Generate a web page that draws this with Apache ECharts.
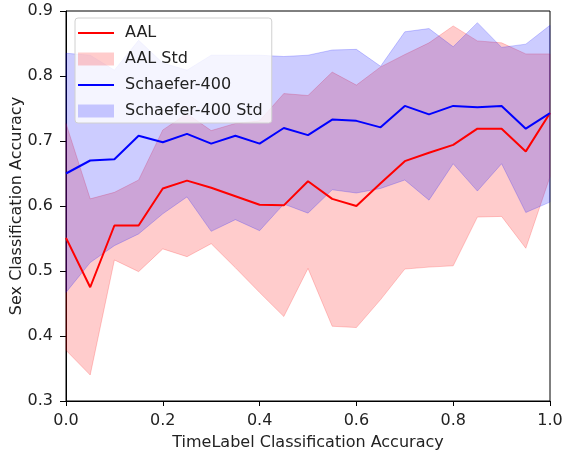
<!DOCTYPE html>
<html>
<head>
<meta charset="utf-8">
<script src="https://cdn.jsdelivr.net/npm/echarts@6/dist/echarts.min.js"></script>
<style>
  html, body { margin: 0; padding: 0; background: #fff; }
  #chart { width: 567px; height: 455px; }
</style>
</head>
<body>
<div id="chart"></div>
<script>
// x positions (TimeLabel accuracy)
const xs = [0, 0.05, 0.1, 0.15, 0.2, 0.25, 0.3, 0.35, 0.4, 0.45, 0.5,
  0.55, 0.6, 0.65, 0.7, 0.75, 0.8, 0.85, 0.9, 0.95, 1.0]

const aalMean = [0.551, 0.475, 0.570, 0.570, 0.627, 0.639, 0.628, 0.615, 0.602, 0.601, 0.638,
  0.611, 0.600, 0.635, 0.669, 0.682, 0.694, 0.719, 0.719, 0.684, 0.743]
const aalLow = [0.378, 0.340, 0.517, 0.499, 0.534, 0.522, 0.542, 0.505, 0.467, 0.430, 0.504,
  0.415, 0.413, 0.456, 0.503, 0.506, 0.508, 0.583, 0.584, 0.535, 0.645]
const aalHigh = [0.727, 0.611, 0.621, 0.640, 0.717, 0.742, 0.716, 0.727, 0.731, 0.773, 0.770,
  0.806, 0.786, 0.814, 0.833, 0.851, 0.877, 0.854, 0.851, 0.834, 0.834]

const schMean = [0.650, 0.670, 0.672, 0.708, 0.698, 0.711, 0.696, 0.708, 0.696, 0.720, 0.709,
  0.733, 0.731, 0.721, 0.754, 0.741, 0.754, 0.752, 0.754, 0.719, 0.743]
const schLow = [0.467, 0.513, 0.539, 0.557, 0.588, 0.614, 0.561, 0.579, 0.562, 0.603, 0.589,
  0.625, 0.620, 0.627, 0.640, 0.609, 0.665, 0.623, 0.665, 0.590, 0.606]
const schHigh = [0.835, 0.832, 0.809, 0.855, 0.820, 0.809, 0.832, 0.832, 0.832, 0.830, 0.832,
  0.840, 0.841, 0.815, 0.868, 0.873, 0.845, 0.882, 0.844, 0.849, 0.878]

const xTicks = [0, 0.2, 0.4, 0.6, 0.8, 1.0]
const yTicks = [0.3, 0.4, 0.5, 0.6, 0.7, 0.8, 0.9]

const font = 'DejaVu Sans'
const txt = '#222'
const lineIcon = 'path://M0,0H36V2H0Z'

const pairs = (ys) => xs.map((x, i) => [x, ys[i]])

// shaded std band between lo and hi, drawn as one polygon through the axes' coord()
const band = (name, lo, hi, rgba) => ({
  name: name,
  type: 'custom',
  data: xs.map((x, i) => [x, lo[i], hi[i]]),
  encode: { x: 0, y: [1, 2] },
  itemStyle: { color: rgba },
  silent: true,
  z: 1,
  renderItem: (params, api) => {
    if (params.dataIndex !== 0) return
    const top = xs.map((x, i) => api.coord([x, hi[i]]))
    const bottom = xs.map((x, i) => api.coord([x, lo[i]])).reverse()
    return {
      type: 'polygon',
      shape: { points: top.concat(bottom) },
      style: { fill: rgba, stroke: rgba, lineWidth: 1 }
    }
  }
})

const chart = echarts.init(document.getElementById('chart'))
chart.setOption({
  animation: false,
  grid: {
    left: 66,
    right: 17,
    top: 11,
    bottom: 54,
    outerBoundsMode: 'none',
    show: true,
    borderColor: '#000',
    borderWidth: 1,
    backgroundColor: 'transparent'
  },
  legend: {
    left: 75,
    top: 18,
    orient: 'vertical',
    padding: [7, 9, 4, 3],
    itemGap: 10,
    itemWidth: 36,
    itemHeight: 13,
    backgroundColor: 'rgba(255,255,255,0.8)',
    borderColor: '#d0d0d0',
    borderWidth: 1,
    borderRadius: 3,
    textStyle: { fontFamily: font, fontSize: 16, color: txt, padding: [0, 0, 0, 6] },
    data: [
      { name: 'AAL', icon: lineIcon },
      { name: 'AAL Std', icon: 'rect' },
      { name: 'Schaefer-400', icon: lineIcon },
      { name: 'Schaefer-400 Std', icon: 'rect' }
    ]
  },
  xAxis: {
    type: 'value',
    min: 0,
    max: 1,
    interval: 0.2,
    name: 'TimeLabel Classification Accuracy',
    nameLocation: 'middle',
    nameGap: 34,
    nameMoveOverlap: false,
    nameTextStyle: { fontFamily: font, fontSize: 16, color: txt },
    axisLine: { lineStyle: { color: '#000', width: 1 } },
    axisTick: { length: 5, lineStyle: { color: '#000' } },
    axisLabel: {
      margin: 12,
      fontFamily: font,
      fontSize: 16,
      color: txt,
      formatter: (v) => xTicks.includes(+v.toFixed(2)) ? v.toFixed(1) : ''
    },
    splitLine: { show: false }
  },
  yAxis: {
    type: 'value',
    min: 0.3,
    max: 0.9,
    interval: 0.1,
    name: 'Sex Classification Accuracy',
    nameLocation: 'middle',
    nameGap: 41,
    nameMoveOverlap: false,
    nameTextStyle: { fontFamily: font, fontSize: 16, color: txt },
    axisLine: { show: true, lineStyle: { color: '#000', width: 1 } },
    axisTick: { show: true, length: 6, lineStyle: { color: '#000' } },
    axisLabel: {
      margin: 13,
      fontFamily: font,
      fontSize: 16,
      color: txt,
      formatter: (v) => yTicks.includes(+v.toFixed(2)) ? v.toFixed(1) : ''
    },
    splitLine: { show: false }
  },
  series: [
    band('AAL Std', aalLow, aalHigh, 'rgba(255,0,0,0.2)'),
    band('Schaefer-400 Std', schLow, schHigh, 'rgba(0,0,255,0.2)'),
    {
      name: 'AAL',
      type: 'line',
      data: pairs(aalMean),
      symbol: 'none',
      color: '#ff0000',
      lineStyle: { color: '#ff0000', width: 2 },
      z: 3
    },
    {
      name: 'Schaefer-400',
      type: 'line',
      data: pairs(schMean),
      symbol: 'none',
      color: '#0000ff',
      lineStyle: { color: '#0000ff', width: 2 },
      z: 3
    }
  ]
})
</script>
</body>
</html>
